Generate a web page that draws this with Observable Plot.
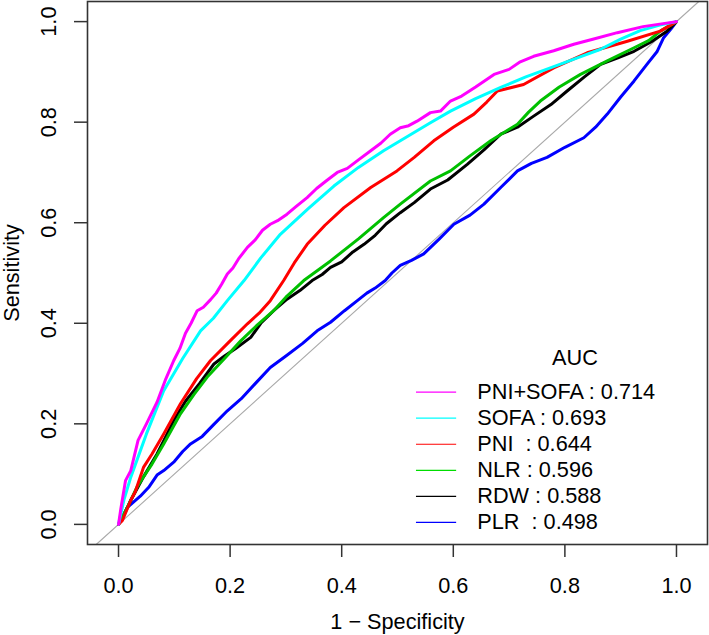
<!DOCTYPE html>
<html><head><meta charset="utf-8">
<script src="https://cdn.jsdelivr.net/npm/d3@7"></script>
<script src="https://cdn.jsdelivr.net/npm/@observablehq/plot@0.6"></script>
<style>
body{margin:0;background:#fff}
svg text{white-space:pre}
</style>
</head><body><div id="chart"></div>
<script>
// ---- data ----
const seriesNames = ["PNI+SOFA", "SOFA", "PNI", "NLR", "RDW", "PLR"];
const aucValues = [0.714, 0.693, 0.644, 0.596, 0.588, 0.498];
const legendLabels = ["PNI+SOFA : 0.714", "SOFA : 0.693", "PNI  : 0.644", "NLR : 0.596", "RDW : 0.588", "PLR  : 0.498"];
const legendTitle = "AUC";

const fprPNISOFA = [0,0.004,0.0125,0.022,0.035,0.05,0.069,0.085,0.099,0.11,0.12,0.13,0.141,0.152,0.165,0.175,0.185,0.195,0.205,0.215,0.231,0.245,0.258,0.272,0.285,0.302,0.318,0.338,0.355,0.372,0.392,0.41,0.43,0.452,0.47,0.487,0.505,0.52,0.535,0.559,0.577,0.595,0.615,0.64,0.673,0.70,0.72,0.744,0.78,0.816,0.85,0.894,0.94,1];
const tprPNISOFA = [0,0.03,0.087,0.107,0.167,0.2,0.243,0.29,0.326,0.35,0.38,0.40,0.425,0.432,0.447,0.46,0.478,0.498,0.51,0.528,0.551,0.566,0.585,0.597,0.604,0.617,0.632,0.650,0.668,0.683,0.700,0.708,0.725,0.743,0.758,0.776,0.789,0.793,0.802,0.819,0.822,0.842,0.852,0.87,0.895,0.905,0.92,0.931,0.942,0.955,0.965,0.978,0.99,1];

const fprSOFA = [0,0.01,0.022,0.05,0.081,0.115,0.147,0.17,0.195,0.225,0.255,0.29,0.34,0.386,0.43,0.475,0.505,0.559,0.595,0.64,0.685,0.73,0.774,0.82,0.864,0.90,0.935,0.97,1];
const tprSOFA = [0,0.05,0.094,0.18,0.266,0.33,0.385,0.41,0.445,0.485,0.53,0.577,0.628,0.673,0.71,0.743,0.763,0.799,0.822,0.847,0.869,0.89,0.908,0.927,0.945,0.965,0.982,0.993,1];

const fprPNI = [0,0.007,0.022,0.03,0.045,0.06,0.081,0.111,0.14,0.165,0.20,0.231,0.252,0.272,0.296,0.315,0.338,0.37,0.404,0.452,0.499,0.53,0.565,0.60,0.637,0.66,0.679,0.726,0.78,0.84,0.912,0.971,1];
const tprPNI = [0,0.008,0.048,0.065,0.114,0.14,0.18,0.24,0.29,0.326,0.365,0.399,0.42,0.445,0.485,0.52,0.557,0.595,0.63,0.67,0.703,0.73,0.763,0.79,0.816,0.84,0.862,0.875,0.908,0.938,0.961,0.981,1];

const fprNLR = [0,0.016,0.033,0.045,0.06,0.081,0.111,0.135,0.159,0.19,0.219,0.25,0.278,0.30,0.332,0.38,0.43,0.475,0.505,0.559,0.595,0.63,0.667,0.715,0.735,0.756,0.79,0.828,0.876,0.924,0.95,0.971,1];
const tprNLR = [0,0.034,0.074,0.095,0.12,0.16,0.22,0.258,0.293,0.33,0.365,0.398,0.425,0.452,0.485,0.524,0.568,0.61,0.637,0.683,0.703,0.733,0.763,0.796,0.82,0.842,0.87,0.895,0.922,0.948,0.962,0.981,1];

const fprRDW = [0,0.01,0.022,0.045,0.069,0.085,0.099,0.12,0.145,0.171,0.19,0.21,0.237,0.255,0.278,0.302,0.325,0.347,0.365,0.38,0.40,0.42,0.44,0.46,0.48,0.505,0.53,0.559,0.59,0.625,0.655,0.685,0.715,0.744,0.775,0.804,0.835,0.864,0.895,0.924,0.955,0.983,1];
const tprRDW = [0,0.02,0.048,0.095,0.14,0.175,0.207,0.245,0.28,0.319,0.335,0.35,0.372,0.40,0.425,0.448,0.465,0.485,0.497,0.511,0.522,0.542,0.557,0.575,0.598,0.62,0.64,0.667,0.685,0.716,0.745,0.776,0.79,0.812,0.835,0.862,0.89,0.915,0.928,0.941,0.96,0.981,1];

const fprPLR = [0,0.016,0.039,0.055,0.069,0.081,0.10,0.115,0.129,0.15,0.17,0.195,0.22,0.245,0.272,0.30,0.33,0.356,0.38,0.405,0.428,0.445,0.46,0.478,0.49,0.505,0.525,0.547,0.575,0.601,0.63,0.655,0.685,0.715,0.74,0.768,0.80,0.834,0.855,0.876,0.90,0.924,0.947,0.965,0.977,0.99,1];
const tprPLR = [0,0.034,0.056,0.075,0.098,0.107,0.125,0.145,0.16,0.175,0.198,0.226,0.25,0.28,0.312,0.335,0.36,0.385,0.402,0.425,0.445,0.46,0.47,0.485,0.50,0.515,0.525,0.538,0.568,0.597,0.615,0.637,0.67,0.703,0.718,0.73,0.75,0.769,0.79,0.816,0.85,0.882,0.915,0.94,0.968,0.985,1];

const xTicks = [0, 0.2, 0.4, 0.6, 0.8, 1.0];
const yTicks = [0, 0.2, 0.4, 0.6, 0.8, 1.0];
const diagValues = [-0.04, 1.04];

// ---- build tables ----
const curves = {
  "PNI+SOFA": [fprPNISOFA, tprPNISOFA],
  "SOFA": [fprSOFA, tprSOFA],
  "PNI": [fprPNI, tprPNI],
  "NLR": [fprNLR, tprNLR],
  "RDW": [fprRDW, tprRDW],
  "PLR": [fprPLR, tprPLR]
};
const colors = {"PNI+SOFA": "#ff00ff", "SOFA": "#00ffff", "PNI": "#ff0000", "NLR": "#00c000", "RDW": "#000000", "PLR": "#0000ff"};
const legendColors = {"PNI+SOFA": "#ff00ff", "SOFA": "#00ffff", "PNI": "#ff0000", "NLR": "#00dd00", "RDW": "#000000", "PLR": "#0000ff"};
const drawOrder = ["PLR", "RDW", "NLR", "PNI", "SOFA", "PNI+SOFA"];

const rowsFor = name => curves[name][0].map((f, i) => ({fpr: f, tpr: curves[name][1][i]}));
const diag = diagValues.map(v => ({x: v, y: v}));

// legend layout (in data units of the panel)
const legX1 = 0.534, legX2 = 0.606, legTextX = 0.643, legTop = 0.263, legStep = 0.0518;
const legendRows = seriesNames.map((n, i) => ({name: n, label: legendLabels[i], auc: aucValues[i], y: legTop - i * legStep}));

const font = "'Liberation Sans', Arial, Helvetica, sans-serif";
const fs = 21.7;
const fmt = d3.format(".1f");

const marks = [
  Plot.line(diag, {x: "x", y: "y", stroke: "#aaaaaa", strokeWidth: 1.1}),
  ...drawOrder.map(n => Plot.line(rowsFor(n), {x: "fpr", y: "tpr", stroke: colors[n], strokeWidth: 3, strokeLinejoin: "round", strokeLinecap: "round"})),
  Plot.frame({stroke: "#333", strokeWidth: 1.6}),
  Plot.axisX(xTicks, {tickSize: 13, tickPadding: 20, tickFormat: fmt, fontSize: fs, stroke: "#333", strokeWidth: 1.5, fill: "#000", label: null}),
  Plot.axisY(yTicks, {tickSize: 13, tickFormat: () => "", stroke: "#333", strokeWidth: 1.5, label: null}),
  Plot.text(yTicks, {y: d => d, text: d => fmt(d), frameAnchor: "left", rotate: -90, lineAnchor: "bottom", textAnchor: "middle", dx: -32, fontSize: fs, fill: "#000"}),
  Plot.text(["1 − Specificity"], {frameAnchor: "bottom", lineAnchor: "bottom", dy: 84, fontSize: fs, fill: "#000"}),
  Plot.text(["Sensitivity"], {frameAnchor: "left", rotate: -90, lineAnchor: "bottom", textAnchor: "middle", dx: -69, fontSize: fs, fill: "#000"}),
  Plot.ruleY(legendRows, {y: "y", x1: legX1, x2: legX2, stroke: d => legendColors[d.name], strokeWidth: 1.2}),
  Plot.text(legendRows, {x: legTextX, y: "y", text: "label", textAnchor: "start", fontSize: fs, fill: "#000"}),
  Plot.text([legendTitle], {x: 0.818, y: 0.331, textAnchor: "middle", fontSize: fs, fill: "#000"})
];

const chart = Plot.plot({
  width: 709,
  height: 635,
  marginLeft: 87,
  marginRight: 2,
  marginTop: 1,
  marginBottom: 91,
  x: {domain: [-0.0556, 1.0556]},
  y: {domain: [-0.04, 1.04]},
  style: {fontFamily: font, fontSize: fs + "px", background: "#fff", color: "#000", overflow: "visible"},
  marks
});
document.getElementById("chart").appendChild(chart);
</script>
</body></html>
